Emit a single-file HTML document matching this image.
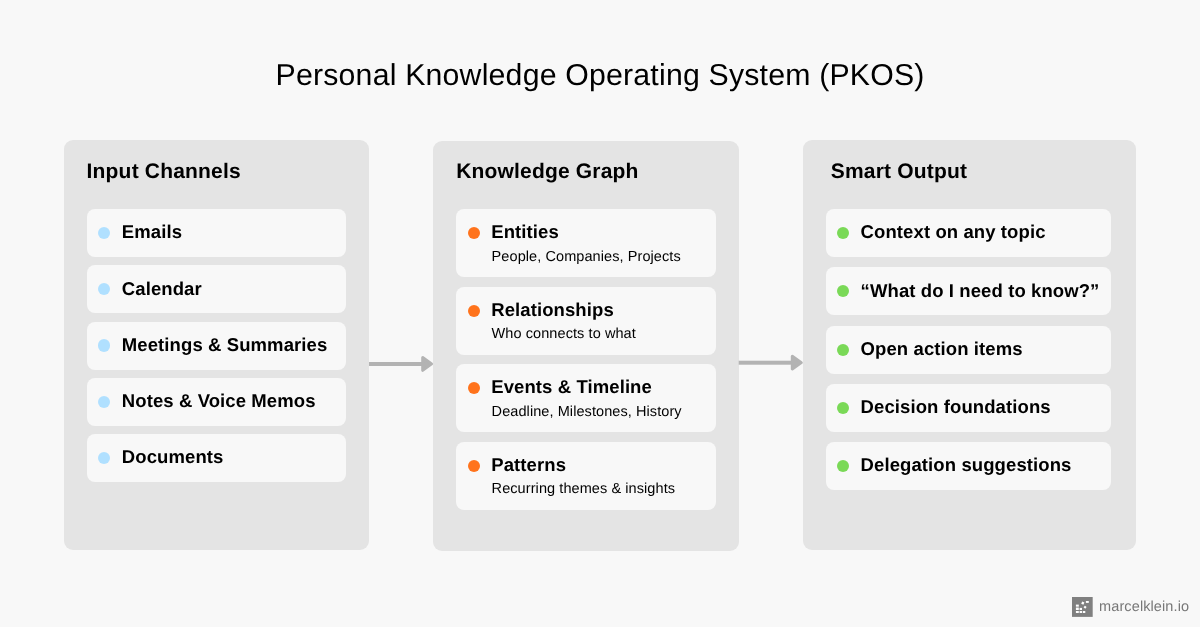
<!DOCTYPE html>
<html>
<head>
<meta charset="utf-8">
<title>PKOS</title>
<style>
html,body{margin:0;padding:0;}
body{width:1200px;height:627px;background:#f8f8f8;position:relative;overflow:hidden;font-family:"Liberation Sans",sans-serif;color:#000;text-rendering:geometricPrecision;}
.abs{position:absolute;white-space:nowrap;}
.title{font-size:30.25px;line-height:36px;font-weight:400;letter-spacing:0.2px;}
.panel{background:#e4e4e4;border-radius:9px;}
.ph{font-weight:700;font-size:21px;line-height:26px;letter-spacing:0.18px;}
.item{background:#f8f8f8;border-radius:8px;}
.dot{width:12.2px;height:12.2px;border-radius:50%;}
.lbl{font-weight:700;font-size:18.5px;line-height:22px;letter-spacing:0.1px;}
.sub{font-weight:400;font-size:14.5px;line-height:18px;letter-spacing:0.08px;}
.blue{background:#b0e0ff;}
.orange{background:#ff731c;}
.green{background:#7ad957;}
.foot{font-size:14.5px;line-height:18px;letter-spacing:0.1px;color:#777;}
</style>
</head>
<body>
<div id="stage" style="position:absolute;left:0;top:0;width:1200px;height:627px;will-change:transform;">

<div class="abs title" style="left:275.60px;top:57.52px;">Personal Knowledge Operating System (PKOS)</div>
<!-- Input Channels -->
<div class="abs panel" style="left:64px;top:140px;width:305.00px;height:409.80px;"></div>
<div class="abs ph" style="left:86.60px;top:159.42px;">Input Channels</div>
<div class="abs item" style="left:87px;top:209.00px;width:258.80px;height:48px;"></div>
<div class="abs dot blue" style="left:98.10px;top:226.90px;"></div>
<div class="abs lbl" style="left:121.80px;top:221.19px;">Emails</div>
<div class="abs item" style="left:87px;top:265.25px;width:258.80px;height:48px;"></div>
<div class="abs dot blue" style="left:98.10px;top:283.15px;"></div>
<div class="abs lbl" style="left:121.80px;top:278.19px;">Calendar</div>
<div class="abs item" style="left:87px;top:321.50px;width:258.80px;height:48px;"></div>
<div class="abs dot blue" style="left:98.10px;top:339.40px;"></div>
<div class="abs lbl" style="left:121.80px;top:334.19px;">Meetings &amp; Summaries</div>
<div class="abs item" style="left:87px;top:377.75px;width:258.80px;height:48px;"></div>
<div class="abs dot blue" style="left:98.10px;top:395.65px;"></div>
<div class="abs lbl" style="left:121.80px;top:390.19px;">Notes &amp; Voice Memos</div>
<div class="abs item" style="left:87px;top:434.00px;width:258.80px;height:48px;"></div>
<div class="abs dot blue" style="left:98.10px;top:451.90px;"></div>
<div class="abs lbl" style="left:121.80px;top:446.19px;">Documents</div>
<!-- Knowledge Graph -->
<div class="abs panel" style="left:433.3px;top:140.8px;width:305.40px;height:410.00px;"></div>
<div class="abs ph" style="left:456.20px;top:159.42px;">Knowledge Graph</div>
<div class="abs item" style="left:456.1px;top:209.00px;width:259.50px;height:68px;"></div>
<div class="abs dot orange" style="left:467.90px;top:226.90px;"></div>
<div class="abs lbl" style="left:491.20px;top:221.19px;">Entities</div>
<div class="abs sub" style="left:491.60px;top:247.58px;">People, Companies, Projects</div>
<div class="abs item" style="left:456.1px;top:286.67px;width:259.50px;height:68px;"></div>
<div class="abs dot orange" style="left:467.90px;top:304.57px;"></div>
<div class="abs lbl" style="left:491.20px;top:299.19px;">Relationships</div>
<div class="abs sub" style="left:491.60px;top:324.58px;">Who connects to what</div>
<div class="abs item" style="left:456.1px;top:364.34px;width:259.50px;height:68px;"></div>
<div class="abs dot orange" style="left:467.90px;top:382.24px;"></div>
<div class="abs lbl" style="left:491.20px;top:376.19px;">Events &amp; Timeline</div>
<div class="abs sub" style="left:491.60px;top:402.58px;">Deadline, Milestones, History</div>
<div class="abs item" style="left:456.1px;top:442.01px;width:259.50px;height:68px;"></div>
<div class="abs dot orange" style="left:467.90px;top:459.91px;"></div>
<div class="abs lbl" style="left:491.20px;top:454.19px;">Patterns</div>
<div class="abs sub" style="left:491.60px;top:479.58px;">Recurring themes &amp; insights</div>
<!-- Smart Output -->
<div class="abs panel" style="left:803px;top:140px;width:333.10px;height:409.80px;"></div>
<div class="abs ph" style="left:830.80px;top:159.42px;">Smart Output</div>
<div class="abs item" style="left:826px;top:209.00px;width:285.20px;height:48px;"></div>
<div class="abs dot green" style="left:837.30px;top:226.90px;"></div>
<div class="abs lbl" style="left:860.60px;top:221.19px;">Context on any topic</div>
<div class="abs item" style="left:826px;top:267.30px;width:285.20px;height:48px;"></div>
<div class="abs dot green" style="left:837.30px;top:285.20px;"></div>
<div class="abs lbl" style="left:860.60px;top:280.19px;">“What do I need to know?”</div>
<div class="abs item" style="left:826px;top:325.60px;width:285.20px;height:48px;"></div>
<div class="abs dot green" style="left:837.30px;top:343.50px;"></div>
<div class="abs lbl" style="left:860.60px;top:338.19px;">Open action items</div>
<div class="abs item" style="left:826px;top:383.90px;width:285.20px;height:48px;"></div>
<div class="abs dot green" style="left:837.30px;top:401.80px;"></div>
<div class="abs lbl" style="left:860.60px;top:396.19px;">Decision foundations</div>
<div class="abs item" style="left:826px;top:442.20px;width:285.20px;height:48px;"></div>
<div class="abs dot green" style="left:837.30px;top:460.10px;"></div>
<div class="abs lbl" style="left:860.60px;top:454.19px;">Delegation suggestions</div>
<!-- Arrows -->
<svg class="abs" style="left:0;top:0;" width="1200" height="627" viewBox="0 0 1200 627">
  <g fill="#b3b3b3" stroke="#b3b3b3" stroke-linejoin="round">
    <rect x="369" y="362" width="56" height="4" stroke="none"/>
    <path d="M422.7 357.5 L431.6 363.9 L422.7 370.3 Z" stroke-width="3"/>
    <rect x="738.7" y="360.7" width="56" height="4" stroke="none"/>
    <path d="M792.3 356.2 L801.3 362.6 L792.3 369 Z" stroke-width="3"/>
  </g>
</svg>
<!-- Footer logo -->
<svg class="abs" style="left:1072.2px;top:597px;" width="20.7" height="19.9" viewBox="0 0 20.7 19.9">
  <rect width="20.7" height="19.9" fill="#808080"/>
  <g fill="#ffffff">
    <rect x="3.9" y="14.0" width="2.9" height="2.0"/><rect x="7.6" y="14.0" width="2.4" height="2.0"/><rect x="10.8" y="14.0" width="2.5" height="2.0"/>
    <rect x="3.9" y="10.9" width="2.9" height="2.1"/><rect x="7.6" y="10.9" width="2.4" height="2.1"/>
    <rect x="3.9" y="7.6" width="2.9" height="2.0"/>
    <rect x="3.9" y="9.6" width="2.9" height="1.3" opacity="0.45"/>
    <rect x="9.6" y="4.9" width="2.4" height="2.4" transform="rotate(25 10.8 6.1)"/>
    <rect x="12.0" y="9.1" width="2.2" height="2.2" transform="rotate(40 13.1 10.2)"/>
    <rect x="13.9" y="4.0" width="2.9" height="1.9"/>
  </g>
</svg>
<div class="abs foot" style="left:1099.10px;top:597.58px;">marcelklein.io</div>
</div>
</body>
</html>
